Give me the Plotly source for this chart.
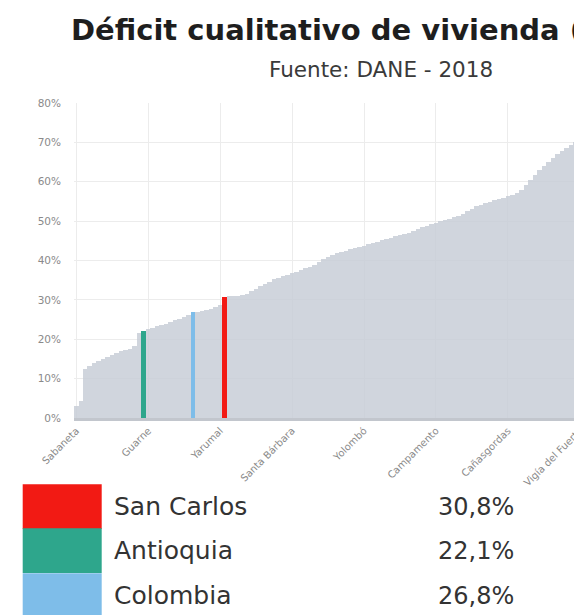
import plotly.graph_objects as go

# ---------------- data ----------------
municipios = [
    "Sabaneta", "Envigado", "Itagüí", "Medellín", "La Estrella", "Bello", "Caldas", "Copacabana",
    "Girardota", "Rionegro", "La Ceja", "Marinilla", "Retiro", "El Carmen de Viboral", "Barbosa",
    "Antioquia", "Guarne", "La Unión", "Donmatías", "Entrerríos", "San Pedro de los Milagros",
    "Santa Fe de Antioquia", "Jardín", "Guatapé", "Jericó", "El Santuario", "Colombia", "Amagá",
    "Fredonia", "Andes", "Sonsón", "Támesis", "Yarumal", "San Carlos", "Titiribí", "Peñol",
    "Venecia", "Santa Rosa de Osos", "Concordia", "Salgar", "Montebello", "Caramanta", "Tarso",
    "Sopetrán", "San Jerónimo", "Angelópolis", "Belmira", "Cocorná", "Santa Bárbara", "Pueblorrico",
    "Betania", "Ciudad Bolívar", "Hispania", "San Vicente Ferrer", "Concepción", "Alejandría",
    "Abejorral", "Armenia", "Heliconia", "Ebéjico", "Granada", "San Rafael", "San Luis",
    "Puerto Triunfo", "Yolombó", "Betulia", "Olaya", "Liborina", "Caicedo", "Giraldo", "La Pintada",
    "Anzá", "San Roque", "Santo Domingo", "Cisneros", "Gómez Plata", "Angostura", "Guadalupe",
    "Carolina del Príncipe", "Yalí", "Campamento", "Puerto Nare", "Maceo", "Caracolí", "Vegachí",
    "Amalfi", "Caucasia", "Puerto Berrío", "Frontino", "Abriaquí", "Urrao", "Peque", "Sabanalarga",
    "Buriticá", "Uramita", "San Andrés de Cuerquia", "Cañasgordas", "Valdivia", "Briceño",
    "San José de la Montaña", "Anorí", "Apartadó", "Carepa", "Chigorodó", "Argelia", "Nariño",
    "San Francisco", "Segovia", "Remedios", "Zaragoza", "El Bagre", "Tarazá", "Vigía del Fuerte",
    "Cáceres", "Ituango", "Dabeiba", "Mutatá", "Turbo", "Nechí", "Necoclí", "Yondó", "Valparaíso",
    "Arboletes", "San Juan de Urabá", "San Pedro de Urabá", "Toledo", "Murindó",
]

deficit = [
    3.1, 4.2, 12.5, 13.3, 14.0, 14.6, 15.0, 15.6, 16.0, 16.5, 17.0, 17.3, 17.6, 18.2, 21.5,
    22.1, 22.6, 22.9, 23.3, 23.6, 24.0, 24.4, 24.8, 25.2, 25.6, 26.1, 26.8, 27.0, 27.2, 27.5,
    27.8, 28.2, 28.6, 30.8, 30.9, 31.0, 31.1, 31.3, 31.6, 32.2, 32.8, 33.4, 34.0, 34.6, 35.2,
    35.6, 36.0, 36.3, 36.7, 37.2, 37.6, 38.0, 38.4, 38.9, 39.6, 40.3, 41.0, 41.4, 41.8, 42.1,
    42.4, 42.8, 43.1, 43.4, 43.8, 44.1, 44.5, 44.8, 45.1, 45.4, 45.8, 46.1, 46.5, 46.8, 47.1,
    47.5, 48.0, 48.4, 48.8, 49.2, 49.6, 50.0, 50.3, 50.6, 51.0, 51.4, 51.8, 52.5, 53.2, 53.8,
    54.2, 54.6, 54.9, 55.3, 55.6, 56.0, 56.4, 56.7, 57.2, 58.0, 59.2, 60.5, 61.8, 63.0, 64.0,
    65.0, 66.0, 67.0, 67.8, 68.6, 69.4, 70.2, 70.8, 71.5, 72.1, 72.8, 73.4, 74.0, 74.7, 75.3,
    76.0, 76.6, 77.2, 77.9, 78.5, 79.1, 79.7,
]

destacados = ["San Carlos", "Antioquia", "Colombia"]
colores_destacados = ["#f21a14", "#2ea68c", "#7ebde9"]
etiquetas_x = ["Sabaneta", "Guarne", "Yarumal", "Santa Bárbara", "Yolombó",
               "Campamento", "Cañasgordas", "Vigía del Fuerte"]
ticks_y = [0, 10, 20, 30, 40, 50, 60, 70, 80]

titulo = "Déficit cualitativo de vivienda (%)"
subtitulo = "Fuente: DANE - 2018"

# ---------------- layout geometry (px) ----------------
W, H = 690, 615
ML, MR, MT, MB = 74, 45, 103, 197
PW = W - ML - MR
PH = H - MT - MB


def px_x(px):
    return (px - ML) / PW


def px_y(py):
    return (H - MB - py) / PH


gray = "rgba(198,204,214,0.82)"
col_map = dict(zip(destacados, colores_destacados))
bar_colors = [col_map.get(m, gray) for m in municipios]

fig = go.Figure(go.Bar(
    x=municipios, y=deficit,
    marker=dict(color=bar_colors, line=dict(width=0)),
    hoverinfo="x+y",
))

FONT = "DejaVu Sans"

fig.update_layout(
    width=W, height=H, autosize=False,
    margin=dict(l=ML, r=MR, t=MT, b=MB, pad=0),
    paper_bgcolor="white", plot_bgcolor="white",
    bargap=0, showlegend=False,
    font=dict(family=FONT, color="#333"),
    title=dict(text=titulo, xref="container", yref="container",
               x=71 / W, xanchor="left", y=1 - 30 / H, yanchor="middle",
               font=dict(family=FONT, size=29, color="#1e1e1e", weight="bold")),
)

fig.update_xaxes(
    type="category", range=[-0.5, len(municipios) - 0.5],
    tickmode="array", tickvals=etiquetas_x, ticktext=etiquetas_x,
    tickangle=-45, tickfont=dict(size=10, color="#8a8a8a"),
    showgrid=True, gridcolor="#ececec", gridwidth=1,
    showline=True, linecolor="#c2c6cd", linewidth=3,
    ticks="", fixedrange=True,
)
fig.update_yaxes(
    range=[0, 80], tickvals=ticks_y, ticktext=[f"{v}%" for v in ticks_y],
    tickfont=dict(size=10.5, color="#8a8a8a"), ticklabelstandoff=12,
    showgrid=True, gridcolor="#ececec", gridwidth=1, zeroline=False,
    fixedrange=True,
)

annotations = [
    dict(text=subtitulo, x=px_x(381), y=px_y(70), xref="paper", yref="paper",
         xanchor="center", yanchor="middle", showarrow=False,
         font=dict(family=FONT, size=21.5, color="#3a3a3a")),
]

shapes = []
row_tops = [484.3, 528.3, 573.3]
row_h = 44.8
for nombre, color, top in zip(destacados, colores_destacados, row_tops):
    valor = deficit[municipios.index(nombre)]
    shapes.append(dict(type="rect", xref="paper", yref="paper",
                       x0=px_x(22.7), x1=px_x(101.7), y0=px_y(top + row_h), y1=px_y(top),
                       fillcolor=color, line=dict(width=0), layer="above"))
    annotations.append(dict(text=nombre, x=px_x(112), y=px_y(top + 22.4),
                            xref="paper", yref="paper", xanchor="left", yanchor="middle",
                            showarrow=False, font=dict(family=FONT, size=25, color="#333")))
    annotations.append(dict(text=f"{valor:.1f}%".replace(".", ","), x=px_x(436),
                            y=px_y(top + 22.4), xref="paper", yref="paper",
                            xanchor="left", yanchor="middle", showarrow=False,
                            font=dict(family=FONT, size=24, color="#333")))

fig.update_layout(annotations=annotations, shapes=shapes)

fig.write_html(
    "out.html",
    post_script="document.body.style.margin='0';document.body.style.overflow='hidden';",
)
